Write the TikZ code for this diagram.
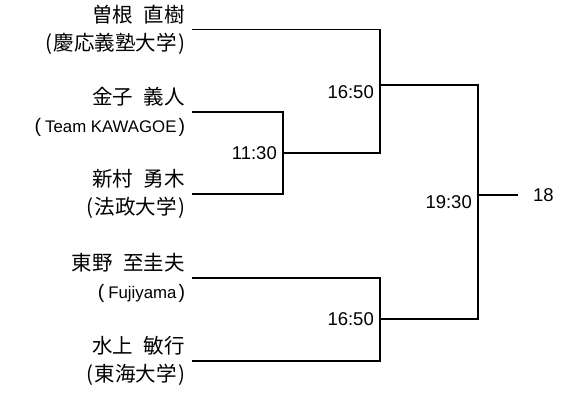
\documentclass[tikz,border=0pt]{standalone}
\usepackage{fontspec}
\setmainfont{Liberation Sans}
\newfontfamily\jp{Noto Sans CJK JP}
\newcommand{\namegap}{\kern11pt}
\begin{document}
\begin{tikzpicture}[x=1pt,y=-1pt,
  player/.style={anchor=east,align=right,inner sep=0pt,outer xsep=7pt,
    font=\fontsize{20.5}{28}\selectfont\jp},
  time/.style={inner xsep=6pt,inner ysep=0pt,font=\fontsize{18.5}{20}\selectfont},
  line/.style={line width=1.3pt}]
\useasboundingbox (0,0) rectangle (564,394);
\def\lat{\fontsize{16.8}{28}\selectfont\rmfamily}
\def\latp{\fontsize{19.5}{28}\selectfont\rmfamily}
\node[player] (p1) at (192,29.5) {曽根\namegap 直樹\\(\kern1.5pt慶応義塾大学\kern1.5pt)};
\node[player] (p2) at (192,112) {金子\namegap 義人\\{\latp(}\kern4pt{\lat Team KAWAGOE}\kern2pt{\latp)}};
\node[player] (p3) at (192,194) {新村\namegap 勇木\\(\kern1.5pt法政大学\kern1.5pt)};
\node[player] (p4) at (192,278) {東野\namegap 至圭夫\\{\latp(}\kern4pt{\lat Fujiyama}\kern2pt{\latp)}};
\node[player] (p5) at (192,361) {水上\namegap 敏行\\(\kern1.5pt東海大学\kern1.5pt)};
\coordinate (m1) at (283,153);
\coordinate (m2) at (380,85);
\coordinate (m3) at (380,319);
\coordinate (m4) at (478,195);
\coordinate (fin) at (518,195);
\draw[line] (p2.east) -| (m1) |- (p3.east);
\draw[line] (p1.east) -| (m2) |- (m1);
\draw[line] (p4.east) -| (m3) |- (p5.east);
\draw[line] (m2) -| (m4) |- (m3);
\draw[line] (m4) -- (fin);
\node[time,anchor=east] (t1) at (m1) {11:30};
\node[time,anchor=north east] (t2) at (m2) {16:50};
\node[time,anchor=east] (t3) at (m3) {16:50};
\node[time,anchor=north east] (t4) at (m4) {19:30};
\node[time,anchor=west,inner xsep=0pt] (t5) at (533,195) {18};
\end{tikzpicture}
\end{document}
